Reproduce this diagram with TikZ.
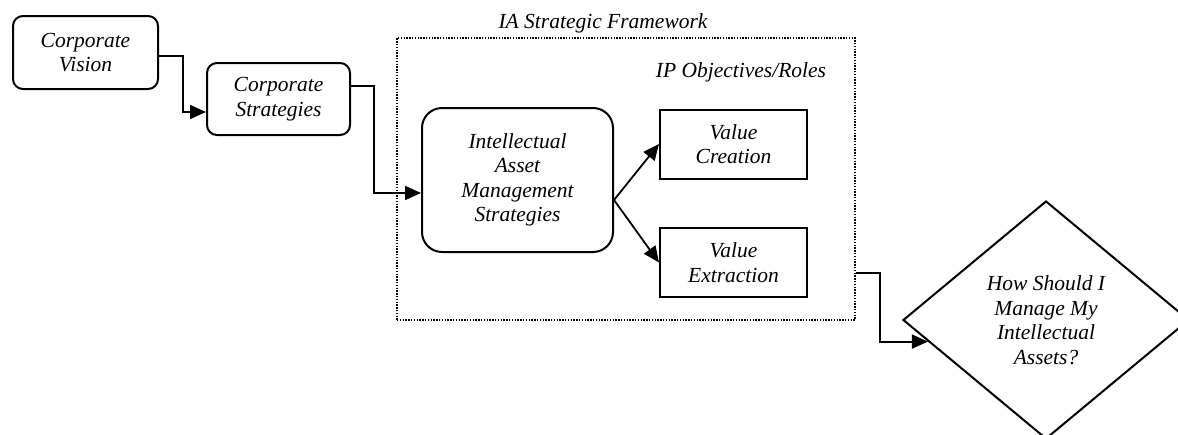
\documentclass[tikz,border=0pt]{standalone}
\usepackage{fontspec}
\setmainfont{Liberation Serif}
\usepackage{tikz}
\usetikzlibrary{arrows.meta,calc,positioning,shapes.geometric}

\tikzset{
  rbox/.style={draw, line width=2pt, rounded corners=10pt, align=center, inner sep=0pt},
  sbox/.style={draw, line width=2pt, align=center, inner sep=0pt, minimum width=147pt, minimum height=69pt},
  link/.style={line width=1.8pt, -{Triangle[length=16pt,width=14pt]}},
  framebox/.style={draw, line width=1.6pt, dash pattern=on 1.4pt off 1.4pt, inner sep=0pt},
}

\begin{document}
\begin{tikzpicture}[x=1pt,y=-1pt,font=\fontsize{21.5}{24.5}\selectfont\itshape]
\clip (0,0) rectangle (1178,434);
% framework frame and its titles
\node[framebox, minimum width=458pt, minimum height=282pt] (frame) at (626,179) {};
\node (fwtitle) at (603,23) {IA Strategic Framework};
\node (iptitle) at (741,72) {IP Objectives/Roles};

% boxes
\node[rbox, minimum width=145pt, minimum height=73pt] (vision) at (85.5,52.5) {Corporate\\Vision};
\node[rbox, minimum width=143pt, minimum height=72pt] (strat) at (278.5,99) {Corporate\\Strategies};
\node[rbox, rounded corners=20pt, minimum width=191pt, minimum height=144pt] (iam) at (517.5,180) {Intellectual\\Asset\\Management\\Strategies};
\node[sbox] (vc) at (733.5,144) {Value\\Creation};
\node[sbox] (ve) at (733.5,262.5) {Value\\Extraction};
\node[draw, diamond, line width=2pt, minimum width=286pt, minimum height=238pt, inner sep=0pt, align=center] (ask) at (1046,320) {How Should I\\Manage My\\Intellectual\\Assets?};

% connectors
\draw[link] ([yshift=-3.5pt]vision.east) -- ++(24,0) |- ([yshift=-13pt]strat.west);
\draw[link] ([yshift=13pt]strat.east) -- ++(23,0) |- ([yshift=-13pt]iam.west);
\draw[link] ([yshift=-20pt]iam.east) -- (vc.west);
\draw[link] ([yshift=-20pt]iam.east) -- (ve.west);
\coordinate (askin) at ($(ask.west)!0.18!(ask.south)$);
\draw[link] ([yshift=-94pt]frame.east) -- ++(24,0) |- (askin);
\end{tikzpicture}
\end{document}
